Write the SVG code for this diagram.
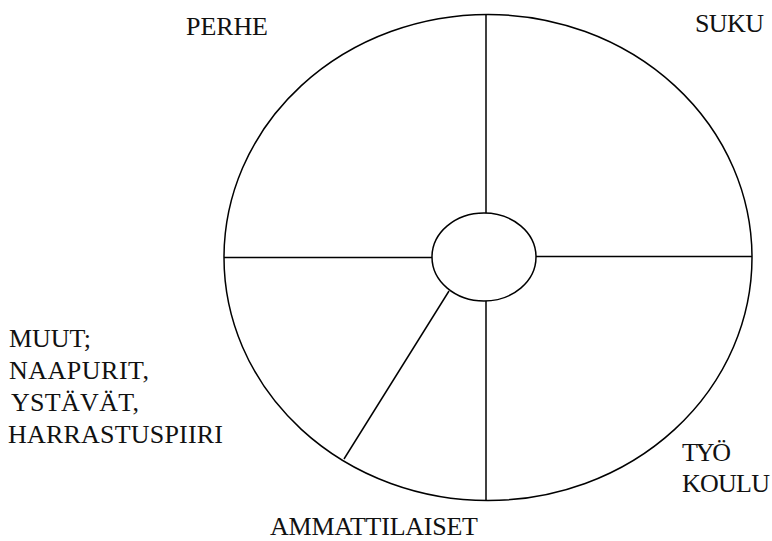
<svg xmlns="http://www.w3.org/2000/svg" width="772" height="541" viewBox="0 0 772 541">
<style>
.s{fill:none;stroke:#000;stroke-width:1.5}
.t{font-family:"Liberation Serif","Times New Roman",serif;font-size:26px;fill:#111}
</style>
<rect width="772" height="541" fill="#fff"/>
<g id="outer"><ellipse class="s" cx="488" cy="257.5" rx="264" ry="243"/></g>
<g id="connectors">
<line class="s" x1="486" y1="15" x2="486" y2="213"/>
<line class="s" x1="486" y1="301" x2="486" y2="500"/>
<line class="s" x1="224" y1="257.5" x2="432" y2="257.5"/>
<line class="s" x1="536" y1="256.5" x2="752" y2="256.5"/>
<line class="s" x1="449" y1="291" x2="344" y2="459"/>
</g>
<g id="center"><ellipse class="s" cx="484" cy="257" rx="52" ry="44"/></g>
<g id="perhe"><text class="t" x="186" y="35" textLength="82" lengthAdjust="spacing">PERHE</text></g>
<g id="suku"><text class="t" x="695" y="32" textLength="69" lengthAdjust="spacing">SUKU</text></g>
<g id="muut">
<text class="t" x="9" y="347" textLength="82" lengthAdjust="spacing">MUUT;</text>
<text class="t" x="9" y="379" textLength="140" lengthAdjust="spacing">NAAPURIT,</text>
<text class="t" x="11" y="411" textLength="128" lengthAdjust="spacing">YSTÄVÄT,</text>
<text class="t" x="8" y="443" textLength="215" lengthAdjust="spacing">HARRASTUSPIIRI</text>
</g>
<g id="tyo">
<text class="t" x="682" y="461" textLength="49" lengthAdjust="spacing">TYÖ</text>
<text class="t" x="682" y="492" textLength="88" lengthAdjust="spacing">KOULU</text>
</g>
<g id="ammattilaiset"><text class="t" x="270" y="535" textLength="208" lengthAdjust="spacing">AMMATTILAISET</text></g>
</svg>
